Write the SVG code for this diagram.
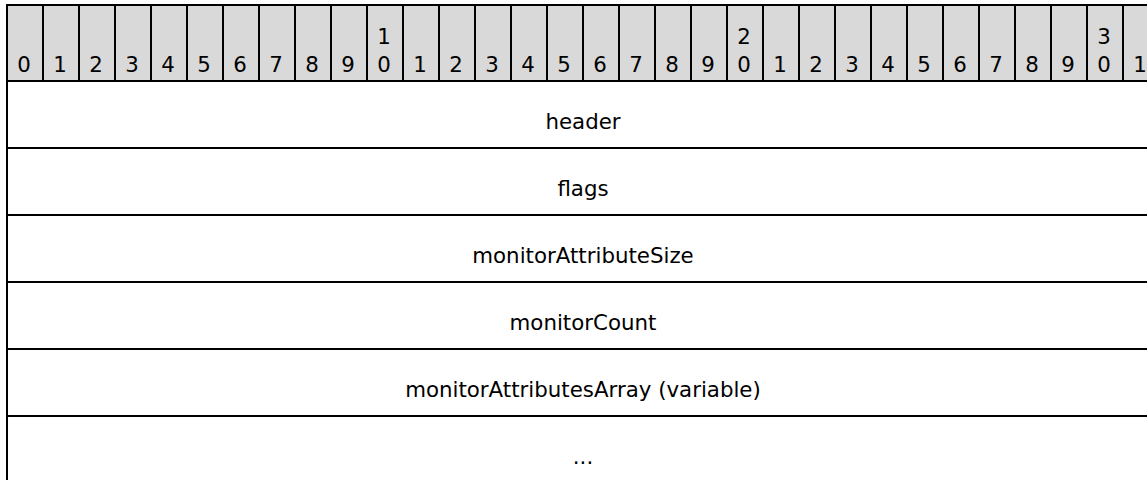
<svg xmlns="http://www.w3.org/2000/svg" width="1147" height="480" viewBox="0 0 1147 480">
<style>
.bit{fill:#d9d9d9;stroke:#000;stroke-width:2}
.ln{stroke:#000;stroke-width:2;fill:none}
.num{font-family:"DejaVu Sans",Verdana,sans-serif;font-size:21.33px;fill:#000;text-anchor:middle}
.lbl{font-family:"DejaVu Sans",Verdana,sans-serif;font-size:21.33px;fill:#000;text-anchor:middle}
</style>
<rect width="1147" height="480" fill="#fff"/>
<g id="bits">
<rect class="bit" x="7" y="5" width="36" height="76"/><text class="num" x="24" y="72">0</text>
<rect class="bit" x="43" y="5" width="36" height="76"/><text class="num" x="60" y="72">1</text>
<rect class="bit" x="79" y="5" width="36" height="76"/><text class="num" x="96" y="72">2</text>
<rect class="bit" x="115" y="5" width="36" height="76"/><text class="num" x="132" y="72">3</text>
<rect class="bit" x="151" y="5" width="36" height="76"/><text class="num" x="168" y="72">4</text>
<rect class="bit" x="187" y="5" width="36" height="76"/><text class="num" x="204" y="72">5</text>
<rect class="bit" x="223" y="5" width="36" height="76"/><text class="num" x="240" y="72">6</text>
<rect class="bit" x="259" y="5" width="36" height="76"/><text class="num" x="276" y="72">7</text>
<rect class="bit" x="295" y="5" width="36" height="76"/><text class="num" x="312" y="72">8</text>
<rect class="bit" x="331" y="5" width="36" height="76"/><text class="num" x="348" y="72">9</text>
<rect class="bit" x="367" y="5" width="36" height="76"/><text class="num" x="384" y="43.5">1</text><text class="num" x="384" y="72">0</text>
<rect class="bit" x="403" y="5" width="36" height="76"/><text class="num" x="420" y="72">1</text>
<rect class="bit" x="439" y="5" width="36" height="76"/><text class="num" x="456" y="72">2</text>
<rect class="bit" x="475" y="5" width="36" height="76"/><text class="num" x="492" y="72">3</text>
<rect class="bit" x="511" y="5" width="36" height="76"/><text class="num" x="528" y="72">4</text>
<rect class="bit" x="547" y="5" width="36" height="76"/><text class="num" x="564" y="72">5</text>
<rect class="bit" x="583" y="5" width="36" height="76"/><text class="num" x="600" y="72">6</text>
<rect class="bit" x="619" y="5" width="36" height="76"/><text class="num" x="636" y="72">7</text>
<rect class="bit" x="655" y="5" width="36" height="76"/><text class="num" x="672" y="72">8</text>
<rect class="bit" x="691" y="5" width="36" height="76"/><text class="num" x="708" y="72">9</text>
<rect class="bit" x="727" y="5" width="36" height="76"/><text class="num" x="744" y="43.5">2</text><text class="num" x="744" y="72">0</text>
<rect class="bit" x="763" y="5" width="36" height="76"/><text class="num" x="780" y="72">1</text>
<rect class="bit" x="799" y="5" width="36" height="76"/><text class="num" x="816" y="72">2</text>
<rect class="bit" x="835" y="5" width="36" height="76"/><text class="num" x="852" y="72">3</text>
<rect class="bit" x="871" y="5" width="36" height="76"/><text class="num" x="888" y="72">4</text>
<rect class="bit" x="907" y="5" width="36" height="76"/><text class="num" x="924" y="72">5</text>
<rect class="bit" x="943" y="5" width="36" height="76"/><text class="num" x="960" y="72">6</text>
<rect class="bit" x="979" y="5" width="36" height="76"/><text class="num" x="996" y="72">7</text>
<rect class="bit" x="1015" y="5" width="36" height="76"/><text class="num" x="1032" y="72">8</text>
<rect class="bit" x="1051" y="5" width="36" height="76"/><text class="num" x="1068" y="72">9</text>
<rect class="bit" x="1087" y="5" width="36" height="76"/><text class="num" x="1104" y="43.5">3</text><text class="num" x="1104" y="72">0</text>
<rect class="bit" x="1123" y="5" width="36" height="76"/><text class="num" x="1140" y="72">1</text>
</g>
<g id="connectors">
<line class="ln" x1="7" y1="4" x2="7" y2="480"/>
<line class="ln" x1="7" y1="148" x2="1160" y2="148"/>
<line class="ln" x1="7" y1="215" x2="1160" y2="215"/>
<line class="ln" x1="7" y1="282" x2="1160" y2="282"/>
<line class="ln" x1="7" y1="349" x2="1160" y2="349"/>
<line class="ln" x1="7" y1="416" x2="1160" y2="416"/>
</g>
<g id="header"><text class="lbl" x="583" y="129">header</text></g>
<g id="flags"><text class="lbl" x="583" y="196">flags</text></g>
<g id="monitorAttributeSize"><text class="lbl" x="583" y="263">monitorAttributeSize</text></g>
<g id="monitorCount"><text class="lbl" x="583" y="330">monitorCount</text></g>
<g id="monitorAttributesArray"><text class="lbl" x="583" y="397">monitorAttributesArray (variable)</text></g>
<g id="more"><text class="lbl" x="583" y="464">...</text></g>
</svg>
